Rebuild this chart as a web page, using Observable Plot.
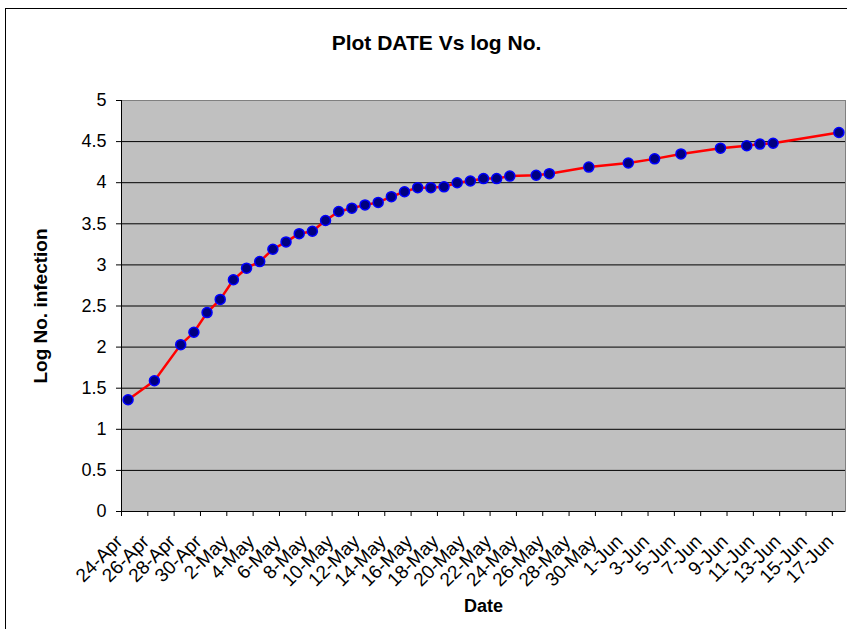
<!DOCTYPE html>
<html><head><meta charset="utf-8">
<script src="https://cdn.jsdelivr.net/npm/d3@7"></script>
<script src="https://cdn.jsdelivr.net/npm/@observablehq/plot@0.6"></script>
<style>
body{margin:0;background:#fff;overflow:hidden;width:847px;height:629px;position:relative;font-family:"Liberation Sans",Arial,sans-serif}
#chart{position:absolute;left:0;top:0}
#frame{position:absolute;left:5px;top:8px;width:900px;height:700px;border:1px solid #000;box-sizing:border-box;z-index:2;pointer-events:none}
</style></head><body><div id="chart"></div><div id="frame"></div>
<script>
const dateLabels = ["24-Apr","26-Apr","28-Apr","29-Apr","30-Apr","1-May","2-May","3-May","4-May","5-May",
  "6-May","7-May","8-May","9-May","10-May","11-May","12-May","13-May","14-May","15-May",
  "16-May","17-May","18-May","19-May","20-May","21-May","22-May","23-May","25-May","26-May",
  "29-May","1-Jun","3-Jun","5-Jun","8-Jun","10-Jun","11-Jun","12-Jun","17-Jun"];
const logValues = [1.36,1.59,2.03,2.18,2.42,2.58,2.82,2.96,3.04,3.19,
  3.28,3.38,3.41,3.54,3.65,3.69,3.73,3.76,3.83,3.89,
  3.94,3.94,3.95,4.00,4.02,4.05,4.05,4.08,4.09,4.11,
  4.19,4.24,4.29,4.35,4.42,4.45,4.47,4.48,4.61];
const xTickLabels = ["24-Apr","26-Apr","28-Apr","30-Apr","2-May","4-May","6-May","8-May","10-May","12-May",
  "14-May","16-May","18-May","20-May","22-May","24-May","26-May","28-May","30-May","1-Jun",
  "3-Jun","5-Jun","7-Jun","9-Jun","11-Jun","13-Jun","15-Jun","17-Jun"];
const yTicks = [0,0.5,1,1.5,2,2.5,3,3.5,4,4.5,5];
const title = "Plot DATE Vs log No.";
const xLabel = "Date";
const yLabel = "Log No. infection";

const parse = d3.utcParse("%d-%b-%Y");
const data = dateLabels.map((d, i) => ({date: d3.utcHour.offset(parse(d + "-2009"), 12), value: logValues[i]}));
const tickDates = xTickLabels.map(d => parse(d + "-2009"));
const font = "'Liberation Sans', Arial, sans-serif";

const plot = Plot.plot({
  width: 847, height: 629,
  marginLeft: 121, marginRight: 2, marginTop: 100, marginBottom: 118,
  style: {fontFamily: font, background: "transparent", color: "#000"},
  x: {type: "utc", domain: [parse("24-Apr-2009"), parse("18-Jun-2009")]},
  y: {domain: [0, 5]},
  marks: [
    Plot.frame({fill: "#c0c0c0", stroke: "#808080"}),
    Plot.gridY(yTicks.filter(v => v > 0 && v < 5), {stroke: "#000", strokeOpacity: 1}),
    Plot.ruleY([0], {stroke: "#000"}),
    Plot.ruleX([tickDates[0]], {stroke: "#000"}),
    Plot.axisY({ticks: yTicks, tickSize: 5, tickPadding: 10, fontSize: 18, tickFormat: d => String(d), label: null}),
    Plot.axisX({ticks: tickDates, tickSize: 5, tickFormat: () => "", label: null}),
    Plot.text(tickDates, {x: d => d, frameAnchor: "bottom", text: (d, i) => xTickLabels[i], rotate: -45,
      textAnchor: "end", lineAnchor: "middle", dy: 27, dx: -2, fontSize: 19}),
    Plot.line(data, {x: "date", y: "value", stroke: "#ff0000", strokeWidth: 2.5}),
    Plot.dot(data, {x: "date", y: "value", r: 5, fill: "#000080", stroke: "#0000ff", strokeWidth: 1.5}),
    Plot.text([title], {frameAnchor: "top", dx: -47, dy: -57, fontSize: 21, fontWeight: "bold", textAnchor: "middle", lineAnchor: "middle"}),
    Plot.text([yLabel], {frameAnchor: "left", dx: -81, rotate: -90, fontSize: 19, fontWeight: "bold", textAnchor: "middle", lineAnchor: "middle"}),
    Plot.text([xLabel], {frameAnchor: "bottom", dy: 95, fontSize: 18, fontWeight: "bold", textAnchor: "middle", lineAnchor: "middle"})
  ]
});
document.getElementById("chart").append(plot);
</script>
</body></html>
